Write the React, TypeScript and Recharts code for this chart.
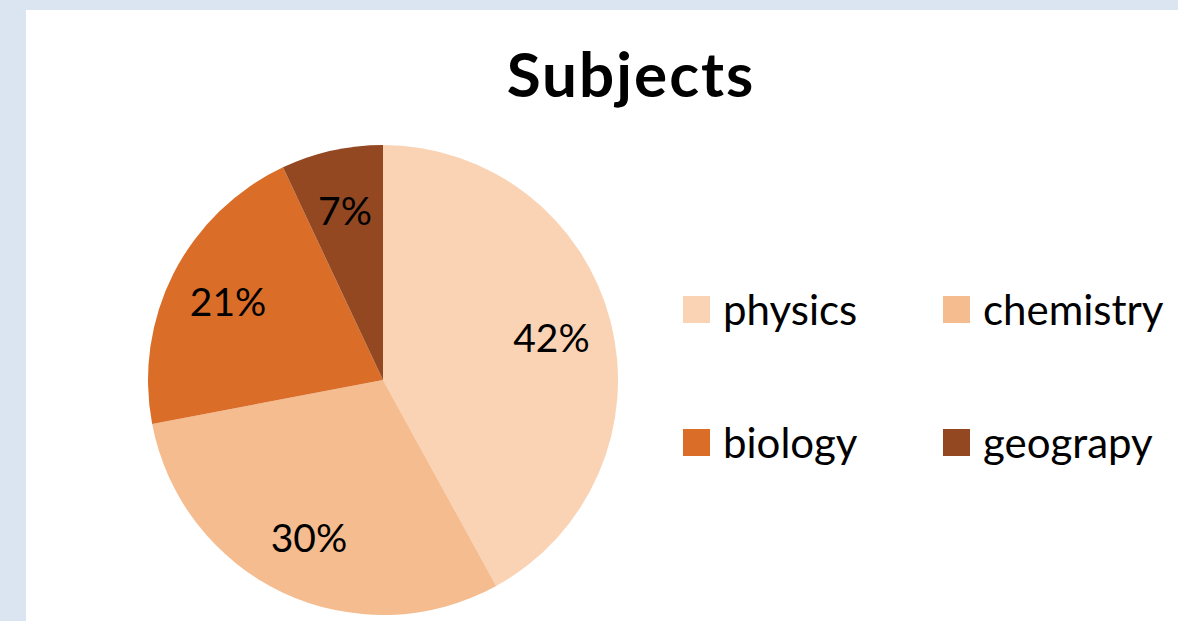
import { PieChart, Pie, Cell, Legend } from 'recharts';

const subjects = ['physics', 'chemistry', 'biology', 'geograpy'];
const shares = [42, 30, 21, 7];
const sliceColors = ['#FAD3B4', '#F4BC8F', '#DA6D28', '#934822'];

const data = subjects.map((name, i) => ({ name, value: shares[i] }));

const FONT = 'Lato, "Open Sans", sans-serif';
const RADIAN = Math.PI / 180;

const renderLabel = ({ cx, cy, midAngle, outerRadius, value }: any) => {
  const r = outerRadius * 0.74;
  const x = cx + r * Math.cos(-midAngle * RADIAN);
  const y = cy + r * Math.sin(-midAngle * RADIAN);
  return (
    <text x={x} y={y} fill="#000" textAnchor="middle" dominantBaseline="central" fontSize={39} fontFamily={FONT}>
      {`${value}%`}
    </text>
  );
};

// keep legend in the data order (recharts sorts it otherwise)
const renderLegend = ({ payload }: any) => {
  const items = [...(payload || [])].sort(
    (a: any, b: any) => subjects.indexOf(a.value) - subjects.indexOf(b.value)
  );
  return (
    <div style={{ display: 'grid', gridTemplateColumns: '260px 240px', rowGap: 77, fontFamily: FONT }}>
      {items.map((entry: any) => (
        <div key={entry.value} style={{ display: 'flex', alignItems: 'center', height: 56 }}>
          <span style={{ width: 27, height: 27, background: entry.color, display: 'inline-block', marginRight: 13 }} />
          <span style={{ fontSize: 42, color: '#000' }}>{entry.value}</span>
        </div>
      ))}
    </div>
  );
};

export default function App() {
  return (
    <div style={{ position: 'fixed', left: 0, top: 0, width: 1178, height: 621, background: '#DAE5F1', overflow: 'hidden' }}>
      <div style={{ position: 'absolute', left: 26, top: 10, width: 1160, height: 620, background: '#fff' }} />
      <div
        style={{
          position: 'absolute',
          left: 0,
          top: 36,
          width: 1262,
          textAlign: 'center',
          fontFamily: FONT,
          fontWeight: 700,
          fontSize: 62,
          letterSpacing: 2,
          color: '#000',
        }}
      >
        Subjects
      </div>
      <div style={{ position: 'absolute', left: 0, top: 0 }}>
        <PieChart width={1178} height={621} margin={{ top: 0, right: 0, bottom: 0, left: 0 }}>
          <Pie
            data={data}
            dataKey="value"
            nameKey="name"
            cx={383}
            cy={380}
            outerRadius={235}
            startAngle={90}
            endAngle={-270}
            stroke="none"
            labelLine={false}
            label={renderLabel}
            isAnimationActive={false}
          >
            {data.map((d, i) => (
              <Cell key={d.name} fill={sliceColors[i]} />
            ))}
          </Pie>
          <Legend
            content={renderLegend}
            wrapperStyle={{ position: 'absolute', left: 683, top: 281, width: 520 }}
          />
        </PieChart>
      </div>
    </div>
  );
}
